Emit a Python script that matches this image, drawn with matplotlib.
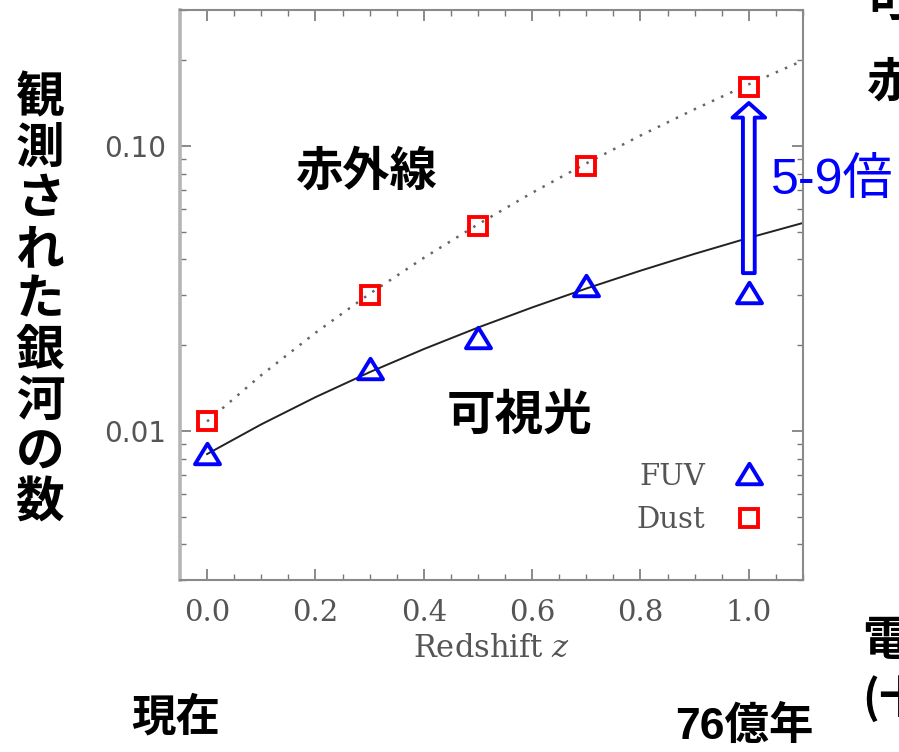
import matplotlib
matplotlib.use("Agg")
import matplotlib.pyplot as plt
from matplotlib.patches import FancyArrowPatch
from matplotlib.ticker import FixedLocator, FuncFormatter, MultipleLocator, LogLocator, NullFormatter
from matplotlib.path import Path

plt.rcParams["mathtext.fontset"] = "dejavuserif"

W, H = 899, 752

# Observed galaxy counts per redshift bin
redshift = [0.0, 0.3, 0.5, 0.7, 1.0]
fuv_counts = [0.0083, 0.0165, 0.0212, 0.0323, 0.0305]
dust_counts = [0.0108, 0.0300, 0.0524, 0.0850, 0.1610]

# Evolution curves sampled along redshift
model_z = [0.0, 0.1, 0.2, 0.3, 0.4, 0.5, 0.6, 0.7, 0.8, 0.9, 1.0, 1.1]
fuv_model = [0.0083, 0.01055, 0.01314, 0.01608, 0.01938, 0.02306,
             0.02713, 0.03161, 0.03651, 0.04184, 0.0476, 0.0537]
dust_model = [0.0108, 0.0157, 0.0221, 0.0303, 0.0405, 0.0531,
              0.0685, 0.0869, 0.1088, 0.1346, 0.1646, 0.1994]

x_ticks = [0.0, 0.2, 0.4, 0.6, 0.8, 1.0]
y_ticks = [0.01, 0.10]

# Arrow span at z = 1 (from optical level up to infrared level)
arrow_z = 1.0
arrow_from, arrow_to = 0.0358, 0.1415

GRAY = "#8a8a8a"
TXT = "#555555"
JP = ["Noto Sans CJK JP", "DejaVu Sans"]
JP_LATIN = ["Liberation Sans", "Noto Sans CJK JP"]

fig = plt.figure(figsize=(W / 100, H / 100), dpi=100)
ax = fig.add_axes([180 / W, 1 - 580 / H, (803 - 180) / W, (580 - 10) / H])

ax.set_yscale("log")
ax.set_xlim(-0.05, 1.10)
ax.set_ylim(0.003, 0.3)

ax.plot(model_z, dust_model, color="#666666", lw=1.8, linestyle=(0, (1, 3)), zorder=2)
ax.plot(model_z, fuv_model, color="#222222", lw=1.4, zorder=2)

tri = Path([(-1, -0.78), (1, -0.78), (0, 0.86), (-1, -0.78)],
           [Path.MOVETO, Path.LINETO, Path.LINETO, Path.CLOSEPOLY])
fuv_line, = ax.plot(redshift, fuv_counts, linestyle="none", marker=tri, ms=18,
                    mfc="none", mec="#0000ff", mew=2.8, label="FUV", zorder=4)
dust_line, = ax.plot(redshift, dust_counts, linestyle="none", marker="s", ms=13,
                     mfc="none", mec="#ff0000", mew=2.8, label="Dust", zorder=4)

arrow = FancyArrowPatch((arrow_z, arrow_from), (arrow_z, arrow_to),
                        arrowstyle="simple,head_length=1.05,head_width=2.35,tail_width=0.85",
                        mutation_scale=10, fc="white", ec="#0000ff", lw=2.8,
                        shrinkA=0, shrinkB=0, zorder=5)
ax.add_patch(arrow)

# Axis styling
for side, sp in ax.spines.items():
    sp.set_color(GRAY)
    sp.set_linewidth(1.5)
ax.spines["left"].set_color("#b5b5b5")
ax.spines["left"].set_linewidth(2.6)

ax.xaxis.set_major_locator(FixedLocator(x_ticks))
ax.xaxis.set_minor_locator(MultipleLocator(0.05))
ax.xaxis.set_major_formatter(FuncFormatter(lambda v, p: f"{v:.1f}"))
ax.yaxis.set_major_locator(FixedLocator(y_ticks))
ax.yaxis.set_minor_locator(LogLocator(base=10, subs=range(2, 10)))
ax.yaxis.set_major_formatter(FuncFormatter(lambda v, p: f"{v:.2f}"))
ax.yaxis.set_minor_formatter(NullFormatter())

ax.tick_params(which="both", direction="in", top=True, right=True, color="#777777")
ax.tick_params(which="major", length=8, width=1.2)
ax.tick_params(which="minor", length=4, width=1.0)
ax.tick_params(axis="x", which="major", pad=14, labelsize=21, labelcolor=TXT)
ax.tick_params(axis="y", which="major", pad=10, labelsize=20, labelcolor=TXT)
for lab in ax.get_xticklabels():
    lab.set_fontfamily("DejaVu Serif")
for lab in ax.get_yticklabels():
    lab.set_fontfamily("DejaVu Sans")

ax.set_xlabel("Redshift $z$", fontsize=22, color=TXT, family="DejaVu Serif", labelpad=4)

leg = ax.legend(handles=[fuv_line, dust_line], loc="lower right",
                bbox_to_anchor=(0.979, 0.035), frameon=False, markerfirst=False,
                handlelength=1.0, handletextpad=1.0, labelspacing=0.52,
                prop={"family": "DejaVu Serif", "size": 21})
for t in leg.get_texts():
    t.set_color(TXT)


def ftext(x, y, s, **kw):
    fig.text(x / W, 1 - y / H, s, ha=kw.pop("ha", "center"), va=kw.pop("va", "center"), **kw)


# Vertical axis caption
for i, ch in enumerate("観測された銀河の数"):
    ftext(40, 97.5 + i * 50.7, ch, fontsize=35, fontweight="bold", family=JP)

ftext(366, 172, "赤外線", fontsize=34, fontweight="bold", family=JP)
ftext(520, 415, "可視光", fontsize=35, fontweight="bold", family=JP)
ftext(832, 181, "5-9倍", fontsize=36, color="#0000ff", family=JP_LATIN)
ftext(176, 718, "現在", fontsize=32, fontweight="bold", family=JP)
ftext(744, 727, "76億年", fontsize=32, fontweight="bold", family=JP_LATIN)

# Neighbouring labels cut by the right border
ftext(866, 2, "可", fontsize=34, fontweight="bold", family=JP, ha="left")
ftext(866, 83, "赤", fontsize=34, fontweight="bold", family=JP, ha="left")
ftext(862, 641, "電", fontsize=34, fontweight="bold", family=JP, ha="left")
ftext(862, 699, "(十", fontsize=32, fontweight="bold", family=JP, ha="left")

fig.savefig("out.png", dpi=100)
